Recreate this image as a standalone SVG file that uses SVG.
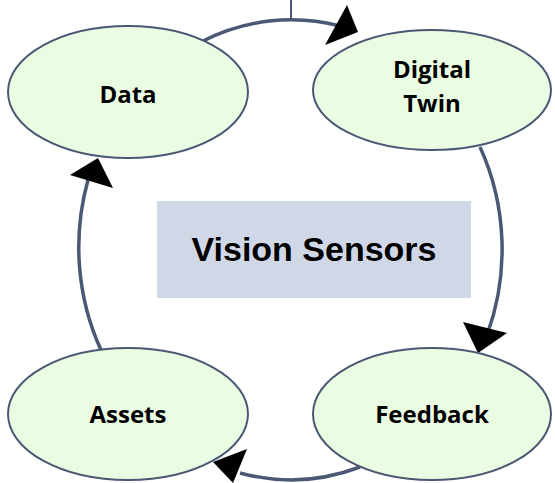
<svg xmlns="http://www.w3.org/2000/svg" width="555" height="483" viewBox="0 0 555 483">
<style>
.node{fill:#EAFCE2;stroke:#4A5874;stroke-width:2}
.lbl{font-family:"Open Sans","Liberation Sans",sans-serif;font-weight:bold;font-size:24px;fill:#000;text-anchor:middle}
.arc{fill:none;stroke:#4A5874;stroke-width:3.5}
.head{fill:#000}
</style>
<rect width="555" height="483" fill="#fff"/>
<g id="connectors">
<line x1="291" y1="0" x2="291" y2="20" stroke="#4A5874" stroke-width="2"/>
<path class="arc" d="M201,42 A211,230 0 0 1 340,26"/>
<path class="arc" d="M480,147 A211,230 0 0 1 487,335"/>
<path class="arc" d="M360,467 A211,230 0 0 1 240,473"/>
<path class="arc" d="M101,350 A211,230 0 0 1 88,180"/>
<polygon class="head" points="347,5 325,45 358,32"/>
<polygon class="head" points="463,322 507,333 478,353"/>
<polygon class="head" points="213,462 247,449 233,483"/>
<polygon class="head" points="98,158 70,175 113,188"/>
</g>
<g id="vision-sensors">
<rect x="157" y="201" width="314" height="97" fill="#D0D8E8"/>
<text x="314" y="261" font-family="'Liberation Sans',Arial,sans-serif" font-weight="bold" font-size="34" text-anchor="middle" fill="#000">Vision Sensors</text>
</g>
<g id="data">
<ellipse class="node" cx="128" cy="92" rx="120" ry="66"/>
<text class="lbl" x="128" y="103">Data</text>
</g>
<g id="digital-twin">
<ellipse class="node" cx="432" cy="90" rx="119" ry="60"/>
<text class="lbl" x="432" y="78">Digital</text>
<text class="lbl" x="432" y="112">Twin</text>
</g>
<g id="assets">
<ellipse class="node" cx="128" cy="414" rx="120" ry="66"/>
<text class="lbl" x="128" y="423">Assets</text>
</g>
<g id="feedback">
<ellipse class="node" cx="432" cy="414" rx="119" ry="66"/>
<text class="lbl" x="432" y="423">Feedback</text>
</g>
</svg>
